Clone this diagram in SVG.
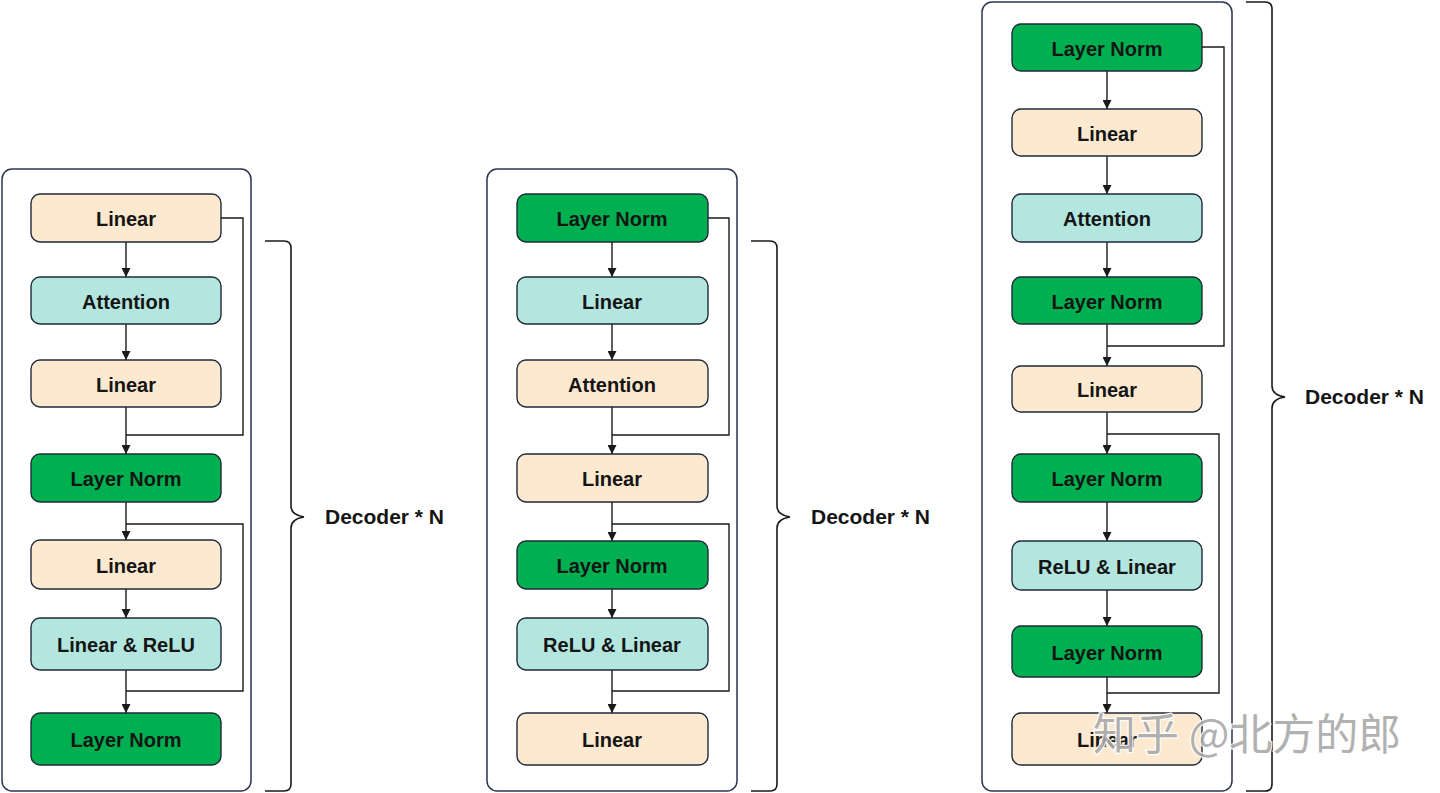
<svg xmlns="http://www.w3.org/2000/svg" width="1440" height="793" viewBox="0 0 1440 793">
<defs>
<marker id="ah" viewBox="0 0 10 10" refX="10" refY="5" markerWidth="9" markerHeight="9" markerUnits="userSpaceOnUse" orient="auto">
<path d="M0,0 L10,5 L0,10 Z" fill="#1a1a1a"/>
</marker>
<style>
.cont{fill:#fff;stroke:#2b3452;stroke-width:1.5}
.box{stroke:#1f2a3a;stroke-width:1.4}
.peach{fill:#fde9d0}
.teal{fill:#b3e6df}
.green{fill:#00b050}
.lbl{font-family:"Liberation Sans",Arial,sans-serif;font-weight:bold;font-size:20px;fill:#151515;text-anchor:middle}
.dec{font-family:"Liberation Sans",Arial,sans-serif;font-weight:bold;font-size:21px;fill:#151515}
.ln{fill:none;stroke:#1a1a1a;stroke-width:1.4}
.arr{fill:none;stroke:#1a1a1a;stroke-width:1.4;marker-end:url(#ah)}
.brace{fill:none;stroke:#1a1a1a;stroke-width:1.6}
.wm{font-family:"Noto Sans CJK SC",sans-serif;font-size:43px;fill:#a9a9a9;stroke:#ffffff;stroke-width:2.5;paint-order:stroke;opacity:0.9}
</style>
</defs>
<rect width="1440" height="793" fill="#fff"/>

<g id="containers">
<rect id="cont1" class="cont" x="2" y="169" width="249" height="622" rx="10"/>
<rect id="cont2" class="cont" x="487" y="169" width="250" height="622" rx="10"/>
<rect id="cont3" class="cont" x="982" y="2" width="250" height="789" rx="10"/>
</g>

<g id="connectors">
<!-- column 1 -->
<path class="arr" d="M126,242 V277"/>
<path class="arr" d="M126,324 V360"/>
<path class="arr" d="M126,407 V454"/>
<path class="ln" d="M221,218 H243 V435 H126"/>
<path class="arr" d="M126,502 V540"/>
<path class="ln" d="M126,524 H243 V691 H126"/>
<path class="arr" d="M126,589 V618"/>
<path class="arr" d="M126,670 V713"/>
<!-- column 2 -->
<path class="arr" d="M612,242 V277"/>
<path class="arr" d="M612,324 V360"/>
<path class="arr" d="M612,407 V454"/>
<path class="ln" d="M708,218 H729 V435 H612"/>
<path class="arr" d="M612,502 V541"/>
<path class="ln" d="M612,524 H729 V691 H612"/>
<path class="arr" d="M612,589 V618"/>
<path class="arr" d="M612,670 V713"/>
<!-- column 3 -->
<path class="arr" d="M1107,71 V109"/>
<path class="arr" d="M1107,156 V194"/>
<path class="arr" d="M1107,242 V277"/>
<path class="arr" d="M1107,324 V366"/>
<path class="ln" d="M1202,47 H1224 V346 H1107"/>
<path class="arr" d="M1107,412 V454"/>
<path class="ln" d="M1107,434 H1219 V693 H1107"/>
<path class="arr" d="M1107,502 V541"/>
<path class="arr" d="M1107,590 V626"/>
<path class="arr" d="M1107,677 V713"/>
</g>

<g id="col1">
<g id="c1n1"><rect class="box peach" x="31" y="194" width="190" height="48" rx="9"/><text class="lbl" x="126" y="226">Linear</text></g>
<g id="c1n2"><rect class="box teal" x="31" y="277" width="190" height="47" rx="9"/><text class="lbl" x="126" y="309">Attention</text></g>
<g id="c1n3"><rect class="box peach" x="31" y="360" width="190" height="47" rx="9"/><text class="lbl" x="126" y="392">Linear</text></g>
<g id="c1n4"><rect class="box green" x="31" y="454" width="190" height="48" rx="9"/><text class="lbl" x="126" y="486">Layer Norm</text></g>
<g id="c1n5"><rect class="box peach" x="31" y="540" width="190" height="49" rx="9"/><text class="lbl" x="126" y="573">Linear</text></g>
<g id="c1n6"><rect class="box teal" x="31" y="618" width="190" height="52" rx="9"/><text class="lbl" x="126" y="652">Linear &amp; ReLU</text></g>
<g id="c1n7"><rect class="box green" x="31" y="713" width="190" height="52" rx="9"/><text class="lbl" x="126" y="747">Layer Norm</text></g>
</g>

<g id="col2">
<g id="c2n1"><rect class="box green" x="517" y="194" width="191" height="48" rx="9"/><text class="lbl" x="612" y="226">Layer Norm</text></g>
<g id="c2n2"><rect class="box teal" x="517" y="277" width="191" height="47" rx="9"/><text class="lbl" x="612" y="309">Linear</text></g>
<g id="c2n3"><rect class="box peach" x="517" y="360" width="191" height="47" rx="9"/><text class="lbl" x="612" y="392">Attention</text></g>
<g id="c2n4"><rect class="box peach" x="517" y="454" width="191" height="48" rx="9"/><text class="lbl" x="612" y="486">Linear</text></g>
<g id="c2n5"><rect class="box green" x="517" y="541" width="191" height="48" rx="9"/><text class="lbl" x="612" y="573">Layer Norm</text></g>
<g id="c2n6"><rect class="box teal" x="517" y="618" width="191" height="52" rx="9"/><text class="lbl" x="612" y="652">ReLU &amp; Linear</text></g>
<g id="c2n7"><rect class="box peach" x="517" y="713" width="191" height="52" rx="9"/><text class="lbl" x="612" y="747">Linear</text></g>
</g>

<g id="col3">
<g id="c3n1"><rect class="box green" x="1012" y="24" width="190" height="47" rx="9"/><text class="lbl" x="1107" y="56">Layer Norm</text></g>
<g id="c3n2"><rect class="box peach" x="1012" y="109" width="190" height="47" rx="9"/><text class="lbl" x="1107" y="141">Linear</text></g>
<g id="c3n3"><rect class="box teal" x="1012" y="194" width="190" height="48" rx="9"/><text class="lbl" x="1107" y="226">Attention</text></g>
<g id="c3n4"><rect class="box green" x="1012" y="277" width="190" height="47" rx="9"/><text class="lbl" x="1107" y="309">Layer Norm</text></g>
<g id="c3n5"><rect class="box peach" x="1012" y="366" width="190" height="46" rx="9"/><text class="lbl" x="1107" y="397">Linear</text></g>
<g id="c3n6"><rect class="box green" x="1012" y="454" width="190" height="48" rx="9"/><text class="lbl" x="1107" y="486">Layer Norm</text></g>
<g id="c3n7"><rect class="box teal" x="1012" y="541" width="190" height="49" rx="9"/><text class="lbl" x="1107" y="574">ReLU &amp; Linear</text></g>
<g id="c3n8"><rect class="box green" x="1012" y="626" width="190" height="51" rx="9"/><text class="lbl" x="1107" y="660">Layer Norm</text></g>
<g id="c3n9"><rect class="box peach" x="1012" y="713" width="190" height="52" rx="9"/><text class="lbl" x="1107" y="747">Linear</text></g>
</g>

<g id="braces">
<path class="brace" d="M265,241 H284 Q291,241 291,248 V506 Q291,515 304,517 Q291,519 291,528 V784 Q291,791 284,791 H265"/>
<text class="dec" x="325" y="524">Decoder * N</text>
<path class="brace" d="M751,241 H770 Q777,241 777,248 V506 Q777,515 790,517 Q777,519 777,528 V784 Q777,791 770,791 H751"/>
<text class="dec" x="811" y="524">Decoder * N</text>
<path class="brace" d="M1246,2 H1265 Q1272,2 1272,9 V386 Q1272,395 1285,397 Q1272,399 1272,408 V784 Q1272,791 1265,791 H1246"/>
<text class="dec" x="1305" y="404">Decoder * N</text>
</g>

<text class="wm" x="1093" y="750">知乎 @北方的郎</text>
</svg>
